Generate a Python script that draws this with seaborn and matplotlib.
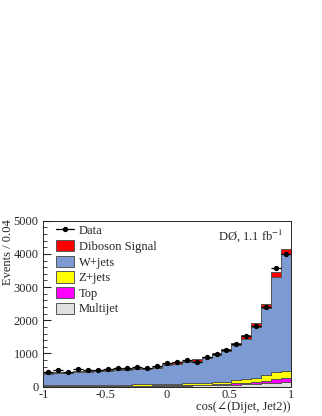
import numpy as np
import pandas as pd
import matplotlib
matplotlib.use("Agg")
import matplotlib.pyplot as plt
from matplotlib.patches import Patch
from matplotlib.lines import Line2D
from matplotlib.ticker import MultipleLocator
import seaborn as sns

# 25 bins from -1 to 1
n_bins = 25
bin_edges = np.linspace(-1, 1, n_bins + 1)
bin_centers = (bin_edges[:-1] + bin_edges[1:]) / 2

data_counts = [452, 490, 450, 520, 490, 500, 530, 550, 570, 600, 570, 630, 700,
               750, 800, 750, 880, 990, 1110, 1290, 1540, 1830, 2400, 3560, 3990]

multijet = [15, 15, 15, 15, 15, 18, 18, 18, 20, 20, 22, 25, 28,
            30, 35, 38, 40, 45, 50, 60, 70, 80, 100, 120, 150]
top = [8, 8, 8, 8, 8, 10, 10, 10, 10, 12, 12, 14, 16,
       18, 20, 22, 25, 28, 30, 40, 50, 60, 80, 110, 100]
zjets = [30, 30, 30, 30, 32, 32, 32, 34, 34, 36, 38, 40, 42,
         45, 50, 55, 60, 65, 70, 90, 110, 130, 170, 220, 220]
wjets = [327, 367, 357, 387, 397, 400, 420, 428, 438, 452, 452, 492, 558,
         600, 640, 665, 735, 826, 934, 1065, 1195, 1537, 2030, 2863, 3516]
diboson = [30, 30, 30, 30, 30, 30, 30, 30, 30, 30, 30, 30, 30,
           40, 40, 50, 30, 40, 60, 60, 130, 100, 110, 150, 150]

components = ["Diboson Signal", "W+jets", "Z+jets", "Top", "Multijet"]
colors = {"Diboson Signal": "#ff0000", "W+jets": "#7b9bd2", "Z+jets": "#ffff00",
          "Top": "#ff00ff", "Multijet": "#e0e0e0"}

rows = []
for name, vals in zip(components, [diboson, wjets, zjets, top, multijet]):
    for c, v in zip(bin_centers, vals):
        rows.append({"x": c, "w": v, "comp": name})
df = pd.DataFrame(rows)

sns.set_style("ticks")
plt.rcParams["font.family"] = ["Liberation Serif", "DejaVu Serif"]
plt.rcParams["mathtext.fontset"] = "stix"

fig = plt.figure(figsize=(3.22, 4.16), dpi=100)
ax = fig.add_axes([0.1345, 0.0705, 0.7685, 0.399])

sns.histplot(data=df, x="x", weights="w", hue="comp", hue_order=components,
             bins=n_bins, binrange=(-1, 1), multiple="stack", element="step",
             fill=True, palette=colors, alpha=1, edgecolor="#555555",
             linewidth=0.7, legend=False, ax=ax)

ax.errorbar(bin_centers, data_counts, xerr=0.04, yerr=np.sqrt(data_counts),
            fmt="o", color="black", markersize=2.8, elinewidth=0.9, capsize=0)

ax.set_xlim(-1, 1)
ax.set_ylim(0, 5000)
ax.set_xticks([-1, -0.5, 0, 0.5, 1])
ax.set_xticklabels(["-1", "-0.5", "0", "0.5", "1"])
ax.xaxis.set_minor_locator(MultipleLocator(0.1))
ax.yaxis.set_minor_locator(MultipleLocator(200))
ax.tick_params(which="both", direction="in", top=False, right=False, labelsize=9)
ax.tick_params(which="major", length=6)
ax.tick_params(which="minor", length=3)
ax.tick_params(axis="x", pad=2)
for s in ax.spines.values():
    s.set_linewidth(0.7)

ax.set_xlabel("cos(∠(Dijet, Jet2))", fontsize=9, ha="right", va="top")
ax.xaxis.set_label_coords(1.0, -0.085)
ax.set_ylabel("Events / 0.04", fontsize=9, ha="right", va="center")
ax.yaxis.set_label_coords(-0.142, 1.01)

ax.text(0.97, 0.96, "DØ, 1.1 fb$^{-1}$", transform=ax.transAxes,
        ha="right", va="top", fontsize=9)

handles = [Line2D([0], [0], color="black", marker="o", markersize=2.8, lw=0.9)]
handles += [Patch(facecolor=colors[c], edgecolor="#555555", linewidth=0.7) for c in components]
labels = ["Data"] + components
ax.legend(handles, labels, loc="upper left", frameon=False, fontsize=9,
          handlelength=1.45, handleheight=1.0, labelspacing=0.22,
          borderaxespad=0.1, borderpad=0.2, handletextpad=0.4,
          bbox_to_anchor=(0.035, 1.0))

fig.savefig("out.png", dpi=100)
